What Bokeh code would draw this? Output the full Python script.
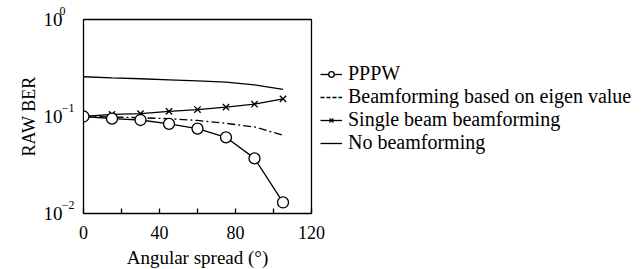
from bokeh.plotting import figure
from bokeh.models import ColumnDataSource, Legend, LegendItem, FixedTicker, Range1d, LogAxis
from bokeh.embed import file_html
from bokeh.resources import INLINE

angles = [0, 15, 30, 45, 60, 75, 90, 105]
pppw = [0.100, 0.095, 0.092, 0.084, 0.075, 0.061, 0.037, 0.013]
eigen = [0.100, 0.099, 0.097, 0.095, 0.091, 0.085, 0.078, 0.064]
single = [0.100, 0.105, 0.107, 0.113, 0.118, 0.125, 0.134, 0.152]
nobf = [0.257, 0.250, 0.245, 0.239, 0.233, 0.226, 0.212, 0.190]
labels = ["PPPW", "Beamforming based on eigen value", "Single beam beamforming", "No beamforming"]
x_ticks = [0, 20, 40, 60, 80, 100, 120]
y_ticks = [0.01, 0.1, 1.0]
y_tick_base = {0.01: "10", 0.1: "10", 1.0: "10"}
y_tick_exp = {0.01: "\u22122\n\u2007", 0.1: "\u22121\n\u2007", 1.0: "0\u2800\n\u2007"}

FONT = "Liberation Serif"

p = figure(frame_width=228, frame_height=194, y_axis_type="log",
           x_range=Range1d(0, 120), y_range=Range1d(0.01, 1),
           output_backend="svg", toolbar_location=None,
           min_border_left=83, min_border_right=0, min_border_top=19, min_border_bottom=56)
p.grid.visible = False
p.outline_line_color = "black"
p.outline_line_width = 1.3
p.background_fill_color = "white"
p.border_fill_color = "white"

xa = p.xaxis[0]
xa.ticker = FixedTicker(ticks=x_ticks)
xa.major_label_overrides = {20: "", 60: "", 100: ""}
xa.major_tick_in = 5
xa.major_tick_out = 0
xa.minor_tick_in = 0
xa.minor_tick_out = 0
xa.axis_label = "Angular spread (\u00b0)"
xa.axis_label_text_font = FONT
xa.axis_label_text_font_style = "normal"
xa.axis_label_text_font_size = "19px"
xa.axis_label_text_color = "black"
xa.major_label_text_font = FONT
xa.major_label_text_font_size = "18px"
xa.major_label_text_color = "black"
xa.major_label_standoff = 12
xa.axis_label_standoff = 5
xa.axis_line_color = "black"
xa.major_tick_line_color = "black"
xa.major_tick_line_width = 1.3

# exponent axis (closest to frame)
ya = p.yaxis[0]
ya.ticker = FixedTicker(ticks=y_ticks)
ya.major_label_overrides = y_tick_exp
ya.major_tick_in = 0
ya.major_tick_out = 0
ya.minor_tick_in = 0
ya.minor_tick_out = 0
ya.major_label_text_font = FONT
ya.major_label_text_font_size = "12px"
ya.major_label_text_color = "black"
ya.major_label_standoff = 9
ya.axis_line_color = "black"

# base "10" axis
yb = LogAxis(ticker=FixedTicker(ticks=y_ticks))
yb.major_label_overrides = y_tick_base
yb.major_tick_in = 0
yb.major_tick_out = 0
yb.minor_tick_in = 0
yb.minor_tick_out = 0
yb.major_label_text_font = FONT
yb.major_label_text_font_size = "19px"
yb.major_label_text_color = "black"
yb.major_label_standoff = -6
yb.axis_line_color = None
yb.axis_label = "RAW BER"
yb.axis_label_text_font = FONT
yb.axis_label_text_font_style = "normal"
yb.axis_label_text_font_size = "18px"
yb.axis_label_text_color = "black"
yb.axis_label_standoff = 2
p.add_layout(yb, "left")

lw = 1.3
p.line(angles, nobf, line_color="black", line_width=lw)
p.line(angles, eigen, line_color="black", line_width=lw, line_dash="8 3 2 3")
p.line(angles, single, line_color="black", line_width=lw)
p.scatter(angles, single, marker="x", size=9, line_color="black", line_width=lw)
p.line(angles, pppw, line_color="black", line_width=lw)
p.scatter(angles, pppw, marker="circle", size=11, line_color="black", fill_color="white", line_width=lw)

# legend-only renderers (one undefined point each, never visible in the frame)
def legend_src():
    return ColumnDataSource(dict(x=angles[:1], y=[float("nan")]))

l1 = p.line("x", "y", source=legend_src(), line_color="black", line_width=lw)
m1 = p.scatter("x", "y", source=legend_src(), marker="circle", size=7, line_color="black", fill_color="white", line_width=lw)
l2 = p.line("x", "y", source=legend_src(), line_color="black", line_width=lw, line_dash="4 2")
l3 = p.line("x", "y", source=legend_src(), line_color="black", line_width=lw)
m3 = p.scatter("x", "y", source=legend_src(), marker="x", size=7, line_color="black", line_width=lw)
l4 = p.line("x", "y", source=legend_src(), line_color="black", line_width=lw)

legend = Legend(items=[LegendItem(label=labels[0], renderers=[l1, m1]),
                       LegendItem(label=labels[1], renderers=[l2]),
                       LegendItem(label=labels[2], renderers=[l3, m3]),
                       LegendItem(label=labels[3], renderers=[l4])],
                location=(9, 59))
legend.padding = 0
legend.margin = 0
legend.spacing = 0
legend.glyph_width = 22
legend.glyph_height = 14
legend.label_height = 14
legend.label_standoff = 6
legend.label_text_font = FONT
legend.label_text_font_size = "20px"
legend.label_text_color = "black"
legend.border_line_alpha = 0
legend.background_fill_alpha = 0
p.add_layout(legend, "right")

open("out.html", "w").write(file_html(p, INLINE))
